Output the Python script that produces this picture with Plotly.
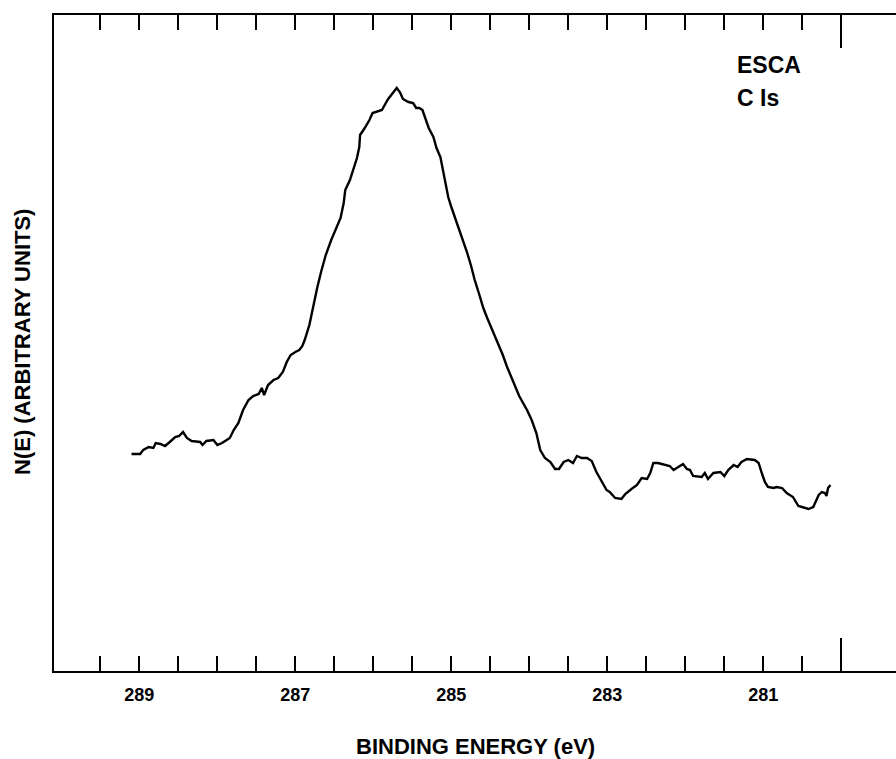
import plotly.graph_objects as go

# Binding energy (eV) and N(E) intensity (arbitrary units)
energy = [289.10, 288.99, 288.95, 288.88, 288.82, 288.79, 288.73, 288.67, 288.61, 288.54,
          288.49, 288.44, 288.39, 288.33, 288.22, 288.19, 288.14, 288.05, 288.00, 287.94,
          287.88, 287.84, 287.79, 287.73, 287.67, 287.60, 287.54, 287.47, 287.43, 287.40,
          287.35, 287.28, 287.22, 287.16, 287.11, 287.06, 287.00, 286.95, 286.91, 286.88,
          286.82, 286.77, 286.72, 286.67, 286.61, 286.54, 286.48, 286.42, 286.38, 286.36,
          286.30, 286.26, 286.21, 286.18, 286.17, 286.11, 286.05, 286.01, 285.96, 285.89,
          285.84, 285.81, 285.74, 285.70, 285.66, 285.62, 285.55, 285.49, 285.45, 285.41,
          285.37, 285.34, 285.29, 285.23, 285.19, 285.14, 285.11, 285.08, 285.04, 285.00,
          284.95, 284.90, 284.85, 284.80, 284.75, 284.70, 284.64, 284.59, 284.54, 284.49,
          284.44, 284.39, 284.34, 284.29, 284.23, 284.18, 284.13, 284.08, 284.03, 283.97,
          283.91, 283.86, 283.80, 283.73, 283.67, 283.62, 283.56, 283.50, 283.44, 283.39,
          283.33, 283.26, 283.20, 283.14, 283.07, 283.01, 282.97, 282.90, 282.82, 282.77,
          282.69, 282.62, 282.56, 282.49, 282.45, 282.41, 282.35, 282.26, 282.20, 282.15,
          282.09, 282.03, 281.98, 281.94, 281.90, 281.83, 281.79, 281.75, 281.71, 281.64,
          281.55, 281.50, 281.45, 281.38, 281.33, 281.28, 281.21, 281.11, 281.06, 281.02,
          280.98, 280.94, 280.87, 280.83, 280.76, 280.70, 280.62, 280.55, 280.47, 280.42,
          280.36, 280.29, 280.25, 280.21, 280.19, 280.17, 280.14]
intensity = [217, 217, 221, 224, 223, 228, 227, 225, 229, 234,
             235, 239, 233, 230, 229, 226, 230, 231, 226, 228,
             231, 233, 241, 248, 261, 271, 275, 277, 283, 276,
             286, 291, 293, 299, 309, 316, 319, 321, 325, 331,
             346, 366, 383, 399, 416, 431, 443, 453, 468, 481,
             491, 501, 513, 524, 536, 543, 551, 558, 559, 561,
             568, 572, 579, 583, 579, 572, 569, 568, 563, 563,
             561, 554, 543, 534, 523, 514, 501, 488, 474, 464,
             453, 441, 431, 419, 406, 391, 376, 363, 353, 344,
             335, 326, 316, 305, 293, 283, 275, 268, 261, 251,
             238, 221, 213, 209, 202, 202, 209, 211, 208, 215,
             213, 213, 210, 199, 189, 181, 179, 173, 172, 177,
             182, 186, 193, 192, 198, 208, 208, 206, 205, 201,
             204, 207, 202, 201, 195, 194, 194, 198, 192, 198,
             199, 195, 201, 206, 204, 209, 212, 211, 208, 198,
             189, 184, 183, 184, 183, 178, 174, 165, 163, 162,
             164, 176, 179, 178, 175, 183, 186]

tick_vals = [289.5, 289.0, 288.5, 288.0, 287.5, 287.0, 286.5, 286.0, 285.5, 285.0,
             284.5, 284.0, 283.5, 283.0, 282.5, 282.0, 281.5, 281.0, 280.5]
tick_text = ["", "289", "", "", "", "287", "", "", "", "285",
             "", "", "", "283", "", "", "", "281", ""]
long_tick = [280.0]

x_range = [290.094, 279.299]
y_range = [0, 656]

FONT = "Liberation Sans, Arial, Helvetica, sans-serif"
H_PLOT = 656.0

fig = go.Figure()
fig.add_trace(go.Scatter(x=energy, y=intensity, mode="lines",
                         line=dict(color="black", width=2.4), hoverinfo="skip",
                         showlegend=False))
fig.add_trace(go.Scatter(x=long_tick, y=[None], xaxis="x2", mode="lines",
                         showlegend=False, hoverinfo="skip"))


def py(pix):
    return (671 - pix) / H_PLOT


def px(pix):
    return (pix - 54) / 842.0


fig.update_layout(
    width=896, height=759,
    margin=dict(l=54, r=0, t=15, b=88),
    paper_bgcolor="white", plot_bgcolor="white",
    showlegend=False,
    xaxis=dict(range=x_range, showline=True, linecolor="black", linewidth=2,
               mirror="ticks", ticks="inside", ticklen=15, tickwidth=2,
               tickcolor="black", tickvals=tick_vals,
               ticktext=["<b>%s</b>" % t if t else "" for t in tick_text],
               tickfont=dict(family=FONT, size=18, color="black"),
               ticklabelstandoff=6, showgrid=False, zeroline=False),
    xaxis2=dict(range=x_range, overlaying="x", anchor="y", side="bottom",
                showline=False, mirror="ticks", ticks="inside", ticklen=33,
                tickwidth=2, tickcolor="black", tickvals=long_tick,
                showticklabels=False, showgrid=False, zeroline=False),
    yaxis=dict(range=y_range, showline=True, linecolor="black", linewidth=2,
               ticks="", showticklabels=False, showgrid=False, zeroline=False),
    annotations=[
        dict(text="<b>ESCA</b>", xref="paper", yref="paper",
             x=px(735), y=py(65), xanchor="left", yanchor="middle",
             showarrow=False, font=dict(family=FONT, size=23, color="black")),
        dict(text="<b>C Is</b>", xref="paper", yref="paper",
             x=px(735), y=py(98), xanchor="left", yanchor="middle",
             showarrow=False, font=dict(family=FONT, size=23, color="black")),
        dict(text="<b>BINDING ENERGY (eV)</b>", xref="paper", yref="paper",
             x=px(475), y=py(746), xanchor="center", yanchor="middle",
             showarrow=False, font=dict(family=FONT, size=22, color="black")),
        dict(text="<b>N(E) (ARBITRARY UNITS)</b>", xref="paper", yref="paper",
             x=px(22), y=py(342), xanchor="center", yanchor="middle",
             textangle=-90, showarrow=False,
             font=dict(family=FONT, size=22, color="black")),
    ],
)

fig.write_html("out.html", config={"displayModeBar": False},
               post_script="document.body.style.margin='0';")
